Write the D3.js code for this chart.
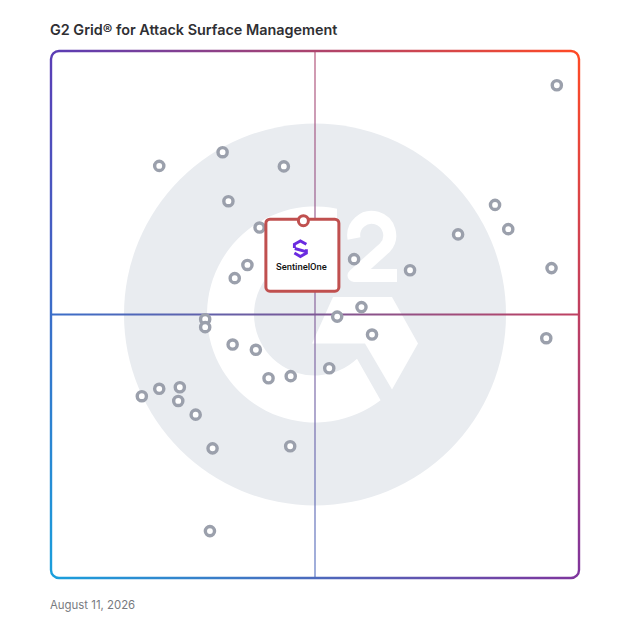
<!DOCTYPE html>
<html>
<head>
<meta charset="utf-8">
<script src="https://cdn.jsdelivr.net/npm/d3@7"></script>
<style>
  body { margin: 0; background: #fff; }
  svg { display: block; }
</style>
</head>
<body>
<div id="grid"></div>
<script>
// satisfaction (x) and market presence (y), 0-100
const satisfaction = [95.8, 20.5, 32.5, 44.1, 33.6, 84.1, 77.1, 86.6, 39.5, 37.2, 34.8,
  57.4, 68.0, 94.8, 58.8, 54.2, 29.2, 29.2, 60.8, 93.8, 34.4, 38.8, 52.7, 45.4, 41.2,
  17.2, 20.5, 24.4, 24.1, 27.4, 30.6, 45.3, 30.1];
const marketPresence = [93.5, 78.2, 80.8, 78.1, 71.5, 70.8, 65.2, 66.2, 66.5, 59.4, 56.9,
  60.5, 58.4, 58.8, 51.4, 49.6, 49.1, 47.6, 46.2, 45.5, 44.3, 43.3, 39.8, 38.3, 37.9,
  34.5, 35.9, 36.2, 33.6, 31.0, 24.6, 25.0, 8.9];
const highlightName = "SentinelOne";
const highlightSatisfaction = 47.8;
const highlightPresence = 67.8;

const title = "G2 Grid\u00ae for Attack Surface Management";
const dateLabel = "August 11, 2026";

drawGrid();

function drawGrid() {
  const W = 628, H = 628;
  const svg = d3.select("#grid").append("svg")
    .attr("width", W).attr("height", H);

  const x = d3.scaleLinear().domain([0, 100]).range([51, 579]);
  const y = d3.scaleLinear().domain([0, 100]).range([578, 51]);
  const cx = x(50), cy = y(50);

  // corner colours of the frame
  const cTL = "#5a3db5", cTR = "#ff4a25", cBL = "#1a9fdc", cBR = "#7f359d";
  const mix = d3.interpolateRgb;

  svg.append("text")
    .attr("x", 50).attr("y", 35)
    .text(title)
    .style("font-family", "Inter, 'Noto Sans', sans-serif")
    .style("font-weight", 600)
    .style("font-size", "14.4px")
    .style("fill", "#2f2f33");

  svg.append("text")
    .attr("x", 50).attr("y", 609)
    .text(dateLabel)
    .style("font-family", "Inter, 'Noto Sans', sans-serif")
    .style("font-size", "11.4px")
    .style("fill", "#777a80");

  // G2 watermark
  const bg = svg.append("g");
  bg.append("circle").attr("cx", cx).attr("cy", cy).attr("r", 191)
    .style("fill", "#e9ecf0");

  const rO = 108, rI = 61;
  const cutX = cx + 22;
  const topO = [cutX, cy - Math.sqrt(rO * rO - 22 * 22)];
  const topI = [cutX, cy - Math.sqrt(rI * rI - 22 * 22)];
  const aO = 52.6 * Math.PI / 180, aI = 46.5 * Math.PI / 180;
  const botO = [cx + rO * Math.cos(aO), cy + rO * Math.sin(aO)];
  const botI = [cx + rI * Math.cos(aI), cy + rI * Math.sin(aI)];
  bg.append("path")
    .attr("d", `M${topO} A${rO},${rO} 0 1 0 ${botO} L${botI} A${rI},${rI} 0 1 1 ${topI} Z`)
    .style("fill", "#fff");

  // crossbar / arrow of the G
  const bar = [[cx + 18, cy - 17.5], [cx + 77, cy - 17.5], [cx + 103, cy + 29],
    [cx + 77, cy + 75], [cx + 50, cy + 29], [cx - 3, cy + 29]];
  bg.append("polygon").attr("points", bar.map(p => p.join(",")).join(" "))
    .style("fill", "#fff");

  // the "2"
  bg.append("path")
    .attr("d", `M${cx + 39},${cy - 76} A18,18 0 1 1 ${cx + 70},${cy - 67} L${cx + 39},${cy - 39} H${cx + 82}`)
    .style("fill", "none").style("stroke", "#fff")
    .style("stroke-width", 13).style("stroke-linejoin", "round");

  // gradient frame
  const defs = svg.append("defs");
  function grad(id, x1, y1, x2, y2, c1, c2) {
    const g = defs.append("linearGradient").attr("id", id)
      .attr("gradientUnits", "userSpaceOnUse")
      .attr("x1", x1).attr("y1", y1).attr("x2", x2).attr("y2", y2);
    g.append("stop").attr("offset", 0).attr("stop-color", c1);
    g.append("stop").attr("offset", 1).attr("stop-color", c2);
  }
  const x0 = x(0), x1 = x(100), y0 = y(100), y1 = y(0), r = 8;
  grad("gTop", x0, 0, x1, 0, cTL, cTR);
  grad("gBot", x0, 0, x1, 0, cBL, cBR);
  grad("gLeft", 0, y0, 0, y1, cTL, cBL);
  grad("gRight", 0, y0, 0, y1, cTR, cBR);
  grad("gH", x0, 0, x1, 0, mix(cTL, cBL)(0.5), mix(cTR, cBR)(0.5));
  grad("gV", 0, y0, 0, y1, mix(cTL, cTR)(0.5), mix(cBL, cBR)(0.5));

  const frame = svg.append("g").style("fill", "none").style("stroke-width", 2.4);
  frame.append("line").attr("x1", cx).attr("x2", cx).attr("y1", y0).attr("y2", y1)
    .style("stroke", "url(#gV)").style("stroke-width", 1.8).style("opacity", 0.6);
  frame.append("line").attr("x1", x0).attr("x2", x1).attr("y1", cy).attr("y2", cy)
    .style("stroke", "url(#gH)").style("stroke-width", 2);
  frame.append("path")
    .attr("d", `M${x0},${y0 + r} A${r},${r} 0 0 1 ${x0 + r},${y0} H${x1 - r} A${r},${r} 0 0 1 ${x1},${y0 + r}`)
    .style("stroke", "url(#gTop)");
  frame.append("path")
    .attr("d", `M${x0},${y1 - r} A${r},${r} 0 0 0 ${x0 + r},${y1} H${x1 - r} A${r},${r} 0 0 0 ${x1},${y1 - r}`)
    .style("stroke", "url(#gBot)");
  frame.append("path")
    .attr("d", `M${x0},${y0 + r} V${y1 - r}`).style("stroke", "url(#gLeft)");
  frame.append("path")
    .attr("d", `M${x1},${y0 + r} V${y1 - r}`).style("stroke", "url(#gRight)");

  // vendors
  const data = satisfaction.map((s, i) => ({ s: s, m: marketPresence[i] }));
  svg.append("g").selectAll("circle")
    .data(data)
    .join("circle")
    .attr("cx", d => x(d.s))
    .attr("cy", d => y(d.m))
    .attr("r", 4.6)
    .style("fill", "#fff")
    .style("stroke", "#9ba0ac")
    .style("stroke-width", 3.4);

  // highlighted vendor card
  const hx = x(highlightSatisfaction), hy = y(highlightPresence);
  const card = svg.append("g").attr("transform", `translate(${hx},${hy})`);
  card.append("rect")
    .attr("x", -37.5).attr("y", -1.5).attr("width", 73).attr("height", 72)
    .attr("rx", 4)
    .style("fill", "#fff").style("stroke", "#c0504f").style("stroke-width", 3);
  const logo = card.append("g").attr("transform", "translate(-3,28)")
    .style("fill", "none").style("stroke", "#6a2be0").style("stroke-width", 2.9)
    .style("stroke-linejoin", "miter");
  logo.append("path").attr("d", "M-6,-0.6 V-4.4 L0,-7.8 L6,-4.4");
  logo.append("path").attr("d", "M-5.6,-0.2 L5.6,3");
  logo.append("path").attr("d", "M-6,4.4 L0,7.8 L6,4.4 V0.6");
  card.append("text")
    .attr("x", -2).attr("y", 49.5)
    .attr("text-anchor", "middle")
    .text(highlightName)
    .style("font-family", "Roboto, 'Noto Sans', sans-serif")
    .style("font-weight", 500)
    .style("font-size", "9.4px")
    .style("fill", "#111");
  card.append("circle")
    .attr("cx", 0).attr("cy", 0).attr("r", 5)
    .style("fill", "#fff").style("stroke", "#c0504f").style("stroke-width", 3);
}
</script>
</body>
</html>
